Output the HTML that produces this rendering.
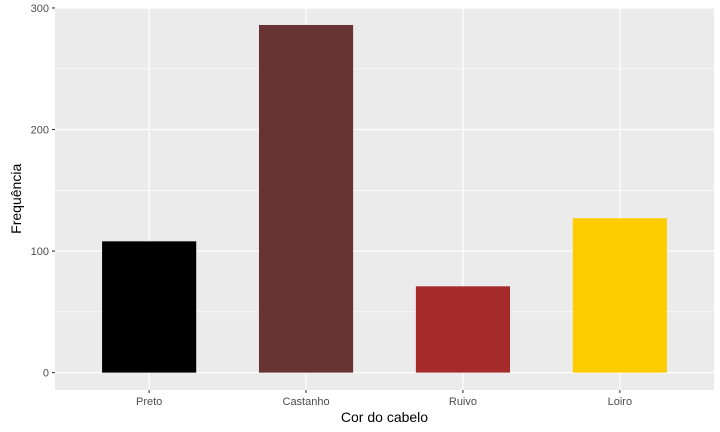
<!DOCTYPE html>
<html><head><meta charset="utf-8">
<style>
body{margin:0;background:#fff;}
svg{display:block;font-family:"Liberation Sans",sans-serif;}
</style></head>
<body>
<svg id="chart" width="720" height="432"></svg>
<script>
const categories = ["Preto","Castanho","Ruivo","Loiro"];
const values = [108, 286, 71, 127];
const colors = ["#000000","#683433","#A52A2A","#FFCC00"];
const yTicks = [0,100,200,300];
const yMinor = [50,150,250];

const NS="http://www.w3.org/2000/svg";
const svg=document.getElementById('chart');
const L=55,R=714,T=7.6,B=390;
const yMin=-14.3,yMax=300.3;
function y(v){return B-(v-yMin)/(yMax-yMin)*(B-T);}
const unit=(R-L)/(categories.length-1+1.2);
function x(i){return L+(0.6+i)*unit;}
function mk(tag,attrs,parent){const e=document.createElementNS(NS,tag);for(const k in attrs)e.setAttribute(k,attrs[k]);(parent||svg).appendChild(e);return e;}

const panel=mk('rect',{x:L,y:T,width:R-L,height:B-T,fill:'#EBEBEB'});


yMinor.forEach(v=>{const l=mk('line',{x1:L,x2:R,y1:y(v),y2:y(v),stroke:'#fff','stroke-width':0.6});

});
yTicks.forEach(v=>{const l=mk('line',{x1:L,x2:R,y1:y(v),y2:y(v),stroke:'#fff','stroke-width':1.2});


const t=mk('line',{x1:L-3,x2:L,y1:y(v),y2:y(v),stroke:'#333','stroke-width':1.1});


const tx=mk('text',{x:L-6,y:y(v)+4,'text-anchor':'end','font-size':'11',fill:'#4D4D4D'});tx.textContent=v;

});
categories.forEach((c,i)=>{const l=mk('line',{x1:x(i),x2:x(i),y1:T,y2:B,stroke:'#fff','stroke-width':1.2});

});
const bw=unit*0.6;
categories.forEach((c,i)=>{
const r=mk('rect',{x:x(i)-bw/2,y:y(values[i]),width:bw,height:y(0)-y(values[i]),fill:colors[i]});


const t=mk('line',{x1:x(i),x2:x(i),y1:B,y2:B+3,stroke:'#333','stroke-width':1.1});


const tx=mk('text',{x:x(i),y:B+15,'text-anchor':'middle','font-size':'11',fill:'#4D4D4D'});tx.textContent=c;


});
const xt=mk('text',{x:(L+R)/2,y:422,'text-anchor':'middle','font-size':'14',fill:'#000'});xt.textContent='Cor do cabelo';


const yt=mk('text',{x:0,y:0,'text-anchor':'middle','font-size':'14',fill:'#000',transform:`translate(21,${(T+B)/2}) rotate(-90)`});yt.textContent='Frequência';


</script>
</body></html>
